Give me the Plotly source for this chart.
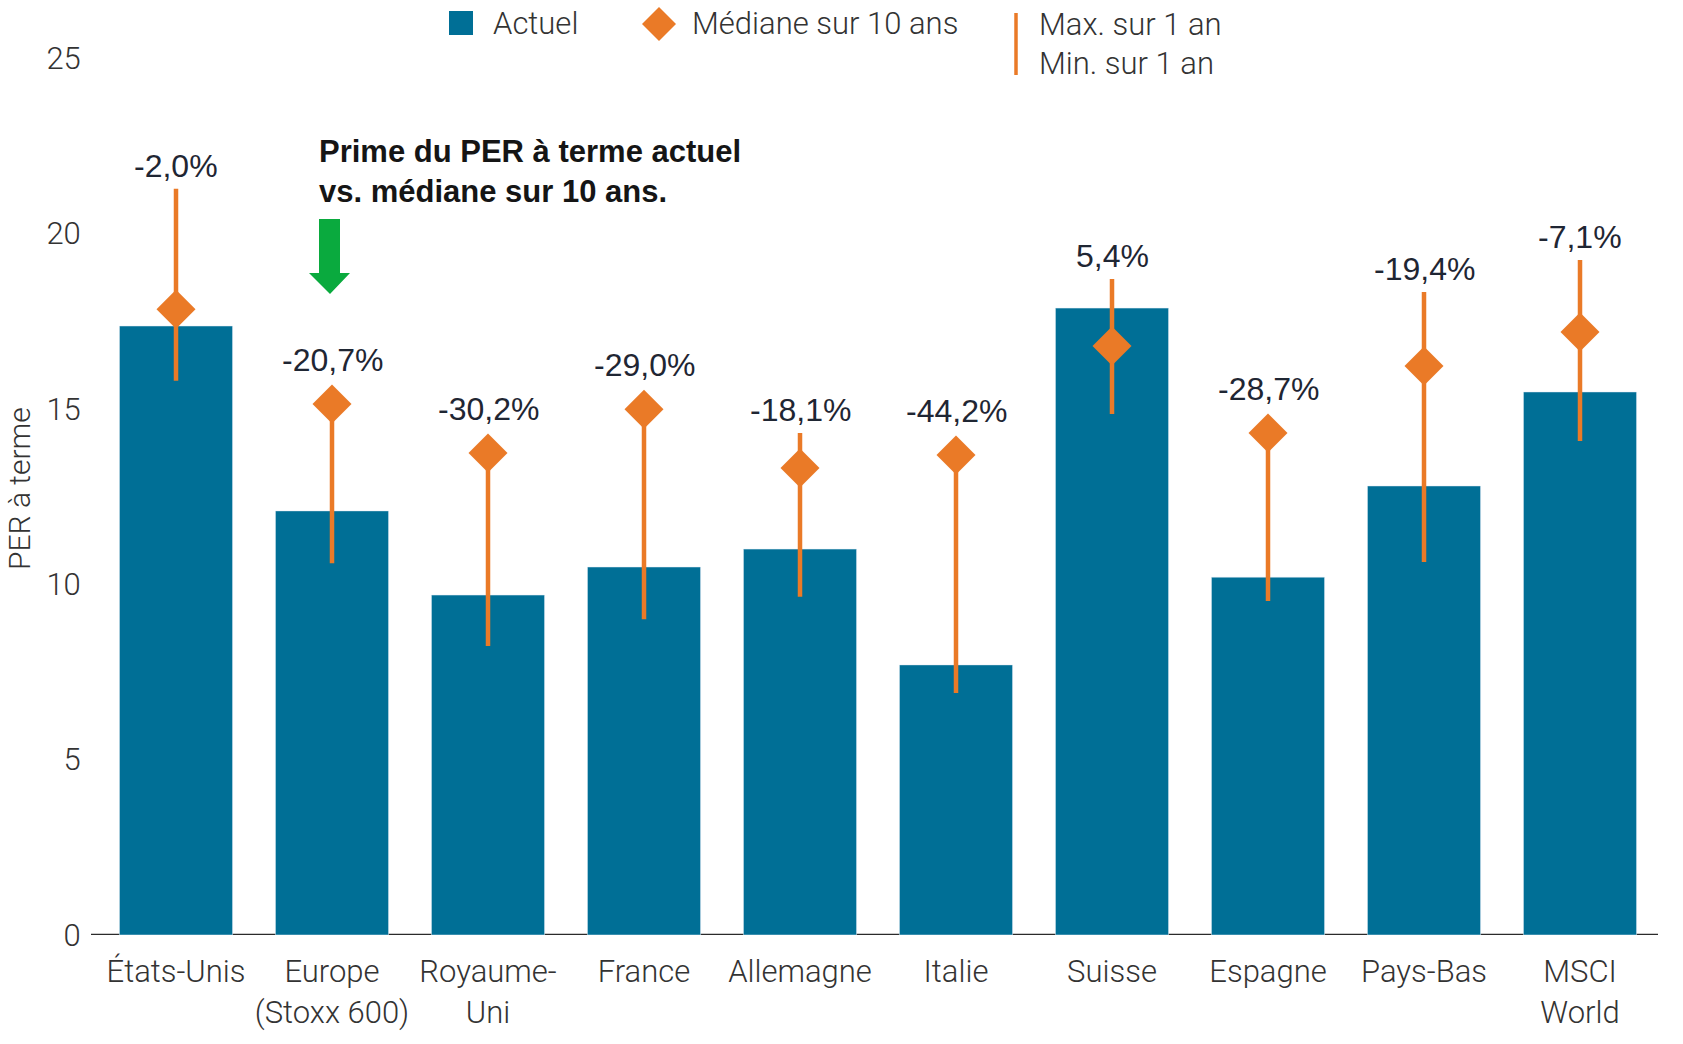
import plotly.graph_objects as go

# ---------------- data ----------------
categories = ["États-Unis", "Europe<br>(Stoxx 600)", "Royaume-<br>Uni", "France", "Allemagne",
              "Italie", "Suisse", "Espagne", "Pays-Bas", "MSCI<br>World"]
actuel = [17.36, 12.09, 9.69, 10.49, 11.00, 7.70, 17.87, 10.20, 12.80, 15.48]
mediane_10ans = [17.84, 15.14, 13.74, 14.99, 13.31, 13.68, 16.79, 14.31, 16.22, 17.19]
max_1an = [21.27, 15.14, 13.74, 14.99, 14.31, 13.68, 18.70, 14.31, 18.33, 19.24]
min_1an = [15.80, 10.60, 8.24, 9.00, 9.64, 6.90, 14.85, 9.52, 10.63, 14.08]
prime_labels = ["-2,0%", "-20,7%", "-30,2%", "-29,0%", "-18,1%", "-44,2%",
                "5,4%", "-28,7%", "-19,4%", "-7,1%"]
y_ticks = [0, 5, 10, 15, 20, 25]

# ---------------- style ----------------
W, H = 1683, 1044
ML, MR, MT, MB = 98, 25, 58, 109
PW, PH = W - ML - MR, H - MT - MB
BLUE = "#006F96"
ORANGE = "#EA7A27"
GREEN = "#0AAA3E"
TXT = "#333333"
LIGHT = dict(family="Roboto, Liberation Sans, Arial", size=31, color=TXT, weight=300)


def px2x(px):
    return (px - ML) / PW


def px2y(py):
    return (H - MB - py) / PH


fig = go.Figure()
fig.add_trace(go.Bar(x=categories, y=actuel, marker_color=BLUE, width=0.725,
                     name="Actuel", showlegend=False))
fig.add_trace(go.Scatter(
    x=categories, y=mediane_10ans, mode="markers", name="Médiane sur 10 ans",
    marker=dict(symbol="diamond", size=30, color=ORANGE),
    error_y=dict(type="data", symmetric=False,
                 array=[mx - md for mx, md in zip(max_1an, mediane_10ans)],
                 arrayminus=[md - mn for md, mn in zip(mediane_10ans, min_1an)],
                 color=ORANGE, thickness=4.5, width=0),
    showlegend=False))

annotations = []
for c, mx, md, lab in zip(categories, max_1an, mediane_10ans, prime_labels):
    annotations.append(dict(
        x=c, y=mx, xref="x", yref="y", text=lab, showarrow=False,
        yanchor="middle", yshift=(23 if mx > md + 0.05 else 44),
        font=dict(family="Liberation Sans, Arial", size=32, color="#1F2633")))

# y axis title
annotations.append(dict(x=px2x(19), y=px2y(489), xref="paper", yref="paper",
                        text="PER à terme", textangle=-90, showarrow=False,
                        xanchor="center", yanchor="middle",
                        font=dict(family="Roboto, Liberation Sans, Arial", size=30,
                                  color=TXT, weight=300)))

# callout text
annotations.append(dict(x=px2x(317), y=px2y(172), xref="paper", yref="paper",
                        text="Prime du PER à terme actuel<br>vs. médiane sur 10 ans.",
                        showarrow=False, xanchor="left", yanchor="middle", align="left",
                        font=dict(family="Liberation Sans, Arial", size=31, color="#151515",
                                  weight=600)))

# legend texts
for txt, lx, ly in [("Actuel", 491, 23), ("Médiane sur 10 ans", 690, 24),
                    ("Max. sur 1 an", 1037, 25), ("Min. sur 1 an", 1037, 64)]:
    annotations.append(dict(x=px2x(lx), y=px2y(ly), xref="paper", yref="paper",
                            text=txt, showarrow=False, xanchor="left", yanchor="middle",
                            font=LIGHT))

shapes = []
# zero line
shapes.append(dict(type="line", xref="paper", yref="y", x0=px2x(91), x1=1.0, y0=0, y1=0,
                   line=dict(color="#2B2B2B", width=2.5), layer="below"))
# legend square
shapes.append(dict(type="rect", xref="paper", yref="paper",
                   x0=px2x(449), x1=px2x(473), y0=px2y(35), y1=px2y(11),
                   fillcolor=BLUE, line=dict(width=0)))
# legend diamond
cx, cy, r = 659, 24, 17
shapes.append(dict(type="path", xref="paper", yref="paper",
                   path=(f"M {px2x(cx)},{px2y(cy - r)} L {px2x(cx + r)},{px2y(cy)} "
                         f"L {px2x(cx)},{px2y(cy + r)} L {px2x(cx - r)},{px2y(cy)} Z"),
                   fillcolor=ORANGE, line=dict(width=0)))
# legend whisker
shapes.append(dict(type="line", xref="paper", yref="paper",
                   x0=px2x(1016), x1=px2x(1016), y0=px2y(13), y1=px2y(75),
                   line=dict(color=ORANGE, width=3.5)))
# green arrow
pts = [(319, 219), (340, 219), (340, 273), (350, 273), (330, 294), (309, 273), (319, 273)]
arrow_path = "M " + " L ".join(f"{px2x(a)},{px2y(b)}" for a, b in pts) + " Z"
shapes.append(dict(type="path", xref="paper", yref="paper", path=arrow_path,
                   fillcolor=GREEN, line=dict(width=0)))

fig.update_layout(
    width=W, height=H, margin=dict(l=ML, r=MR, t=MT, b=MB, pad=0),
    paper_bgcolor="white", plot_bgcolor="white",
    showlegend=False, bargap=0.275,
    annotations=annotations, shapes=shapes,
    font=LIGHT,
)
fig.update_xaxes(showgrid=False, zeroline=False, showline=False, ticks="outside",
                 ticklen=9, tickcolor="rgba(0,0,0,0)", tickfont=LIGHT,
                 range=[-0.5, 9.5])
fig.update_yaxes(range=[0, 25], tickvals=y_ticks, showgrid=False, zeroline=False,
                 showline=False, ticks="outside", ticklen=10, tickcolor="rgba(0,0,0,0)",
                 tickfont=LIGHT)

fig.write_html("out.html", config={"displayModeBar": False},
               post_script="document.body.style.margin='0';")
